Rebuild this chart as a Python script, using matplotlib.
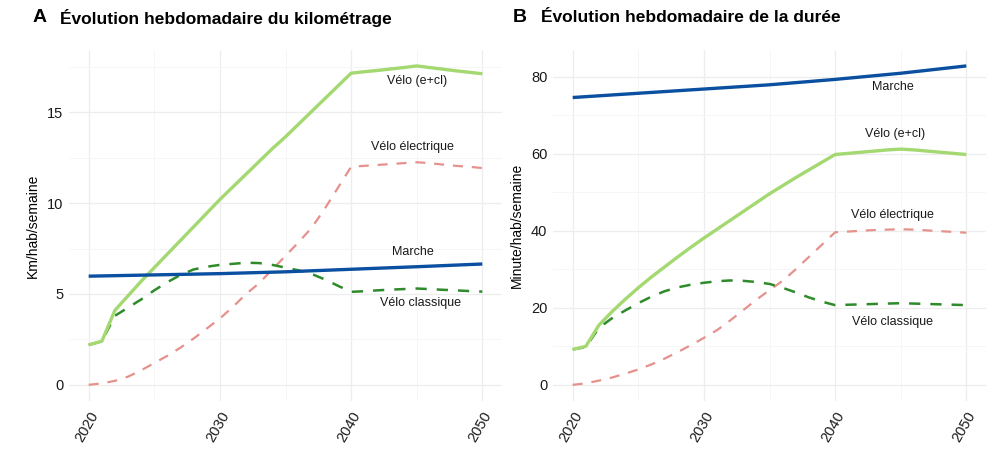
import numpy as np
import matplotlib
matplotlib.use("Agg")
import matplotlib.pyplot as plt
from matplotlib.ticker import MultipleLocator

plt.rcParams['font.family'] = ['Liberation Sans', 'DejaVu Sans']

years = list(range(2020, 2051))
years_marche = [2020, 2025, 2030, 2035, 2040, 2045, 2050]

# Panel A : km/hab/semaine
km_velo_total = [2.2, 2.4, 4.1, 4.9, 5.7, 6.45, 7.2, 7.95, 8.7, 9.45, 10.2,
                 10.9, 11.6, 12.3, 13.0, 13.65, 14.35, 15.05, 15.75, 16.45, 17.15,
                 17.23, 17.3, 17.38, 17.46, 17.55, 17.46, 17.37, 17.28, 17.2, 17.12]
km_velo_elec = [0.0, 0.08, 0.22, 0.45, 0.8, 1.2, 1.6, 2.05, 2.55, 3.1, 3.65,
                4.3, 5.0, 5.6, 6.35, 7.1, 7.85, 8.65, 9.7, 10.85, 12.0,
                12.05, 12.1, 12.15, 12.2, 12.25, 12.2, 12.12, 12.05, 12.0, 11.93]
km_velo_classique = [2.2, 2.4, 3.8, 4.25, 4.7, 5.2, 5.65, 6.05, 6.35, 6.5, 6.6,
                     6.66, 6.72, 6.7, 6.6, 6.45, 6.3, 6.1, 5.8, 5.45, 5.12,
                     5.15, 5.2, 5.24, 5.27, 5.3, 5.27, 5.23, 5.2, 5.16, 5.13]
km_marche = [5.98, 6.05, 6.12, 6.22, 6.36, 6.5, 6.65]

# Panel B : minute/hab/semaine
min_velo_total = [9.2, 10.0, 15.5, 19.0, 22.2, 25.2, 28.0, 30.6, 33.2, 35.7, 38.1,
                  40.4, 42.7, 45.0, 47.3, 49.6, 51.7, 53.8, 55.8, 57.8, 59.8,
                  60.1, 60.4, 60.7, 61.0, 61.2, 61.0, 60.7, 60.4, 60.1, 59.8]
min_velo_elec = [0.0, 0.4, 1.1, 1.9, 2.9, 4.0, 5.3, 6.8, 8.5, 10.3, 12.2,
                 14.2, 16.7, 19.4, 22.1, 24.6, 27.0, 30.0, 33.2, 36.4, 39.6,
                 39.8, 40.0, 40.2, 40.3, 40.4, 40.3, 40.1, 39.9, 39.7, 39.5]
min_velo_classique = [9.2, 9.8, 14.8, 17.3, 19.3, 21.2, 22.9, 24.3, 25.3, 26.0, 26.5,
                      26.9, 27.1, 27.0, 26.7, 26.2, 25.2, 24.0, 22.7, 21.6, 20.7,
                      20.8, 20.9, 21.0, 21.1, 21.2, 21.1, 21.0, 20.9, 20.8, 20.7]
min_marche = [74.6, 75.7, 76.8, 77.9, 79.3, 80.9, 82.8]

c_marche = '#0A4FA0'
c_total = '#A4D870'
c_elec = '#E5918C'
c_classique = '#2E8B2A'


def draw_panel(ax, total, elec, classique, marche, ymajor, yminor, ylabel, labels):
	"""Dessine un panneau façon theme_minimal de ggplot."""
	ax.plot(years, elec, color=c_elec, lw=1.6, dashes=(4.5, 4))
	ax.plot(years, classique, color=c_classique, lw=1.8, dashes=(4.5, 4))
	ax.plot(years, total, color=c_total, lw=2.4, solid_capstyle='butt')
	ax.plot(years_marche, marche, color=c_marche, lw=2.4, solid_capstyle='butt')

	allv = total + elec + classique + marche
	lo, hi = min(allv), max(allv)
	pad = (hi - lo) * 0.05
	ax.set_ylim(lo - pad, hi + pad)
	ax.set_xlim(2020 - 1.5, 2050 + 1.5)

	ax.xaxis.set_major_locator(MultipleLocator(10))
	ax.xaxis.set_minor_locator(MultipleLocator(5))
	ax.yaxis.set_major_locator(MultipleLocator(ymajor))
	ax.yaxis.set_minor_locator(MultipleLocator(yminor))
	ax.grid(which='major', color='#EDEDED', lw=0.9)
	ax.grid(which='minor', color='#F5F5F5', lw=0.6)
	ax.set_axisbelow(True)
	for s in ax.spines.values():
		s.set_visible(False)
	ax.tick_params(which='both', length=0, labelsize=10.5, pad=4)
	ax.tick_params(axis='x', pad=6)
	for lab in ax.get_xticklabels():
		lab.set_rotation(60)
		lab.set_ha('right')
		lab.set_va('top')
		lab.set_rotation_mode('anchor')
		lab.set_color('#1A1A1A')
	for lab in ax.get_yticklabels():
		lab.set_color('#1A1A1A')
	ax.set_ylabel(ylabel, fontsize=10, labelpad=5)

	for txt, x, y in labels:
		ax.text(x, y, txt, fontsize=9, ha='center', va='center', color='#1A1A1A')


fig = plt.figure(figsize=(10, 4.76), dpi=100)
axA = fig.add_axes([0.069, 0.158, 0.433, 0.737])
axB = fig.add_axes([0.553, 0.158, 0.433, 0.737])

draw_panel(axA, km_velo_total, km_velo_elec, km_velo_classique, km_marche,
	5, 2.5, 'Km/hab/semaine',
	[('Vélo (e+cl)', 2045.0, 16.7), ('Vélo électrique', 2044.7, 13.1),
	 ('Marche', 2044.7, 7.3), ('Vélo classique', 2045.3, 4.5)])
draw_panel(axB, min_velo_total, min_velo_elec, min_velo_classique, min_marche,
	20, 10, 'Minute/hab/semaine',
	[('Marche', 2044.4, 77.2), ('Vélo (e+cl)', 2044.6, 65.0),
	 ('Vélo électrique', 2044.4, 44.0), ('Vélo classique', 2044.4, 16.2)])

fig.text(0.033, 0.963, 'A', fontsize=14, fontweight='bold', va='center', ha='left')
fig.text(0.060, 0.963, 'Évolution hebdomadaire du kilométrage', fontsize=12.5,
	fontweight='bold', va='center', ha='left')
fig.text(0.513, 0.963, 'B', fontsize=14, fontweight='bold', va='center', ha='left')
fig.text(0.541, 0.963, 'Évolution hebdomadaire de la durée', fontsize=12.5,
	fontweight='bold', va='center', ha='left')

fig.savefig('out.png', dpi=100)
